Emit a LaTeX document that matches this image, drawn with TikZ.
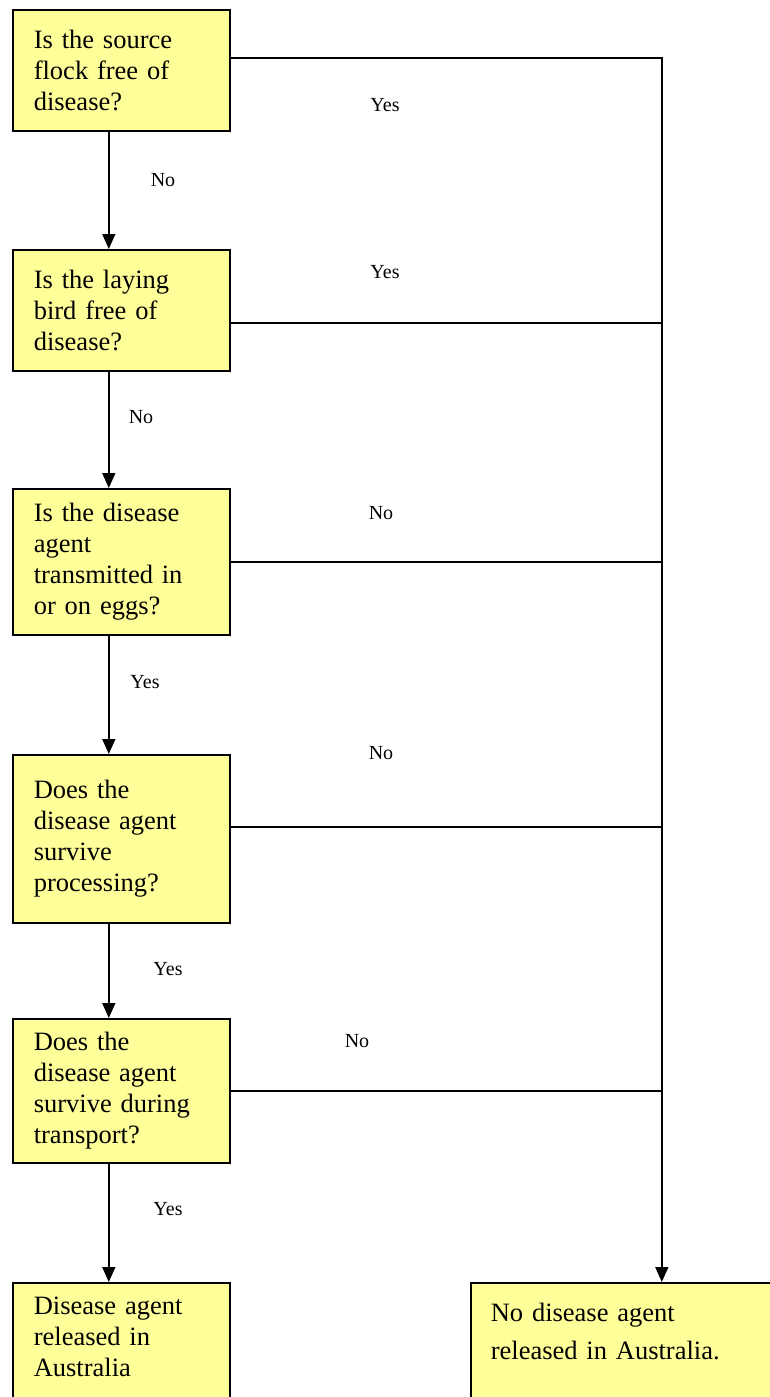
\documentclass[tikz,border=0pt]{standalone}
\usepackage{fontspec}
\setmainfont{Liberation Serif}
\usetikzlibrary{arrows.meta, positioning, calc}
\definecolor{PaleYellow}{HTML}{FFFF99}

\begin{document}
\begin{tikzpicture}[x=1pt, y=-1pt,
    box/.style={draw=black, line width=1.6pt, fill=PaleYellow, anchor=north west,
        text width=175pt, inner xsep=21pt, inner ysep=4pt, align=left,
        font=\fontsize{26.5}{31}\selectfont},
    link/.style={black, line width=1.6pt},
    arrow/.style={link, -{Triangle[length=15pt, width=13pt]}},
    lbl/.style={font=\fontsize{20}{24}\selectfont}]

\useasboundingbox (0,0) rectangle (770,1397);
\clip (0,0) rectangle (770,1397);

% preguntas
\node[box, minimum height=121pt] (q1) at (12,9) {Is the source\\flock free of\\disease?};
\node[box, minimum height=121pt] (q2) at (12,249) {Is the laying\\bird free of\\disease?};
\node[box, minimum height=146pt] (q3) at (12,488) {Is the disease\\agent\\transmitted in\\or on eggs?};
\node[box, minimum height=168pt] (q4) at (12,754) {Does the\\disease agent\\survive\\processing?};
\node[box, minimum height=144pt] (q5) at (12,1018) {Does the\\disease agent\\survive during\\transport?};

% resultados
\node[box, inner ysep=14pt, text depth=140pt] (rel) at (12,1282)
    {Disease agent\\released in\\Australia};
\node[box, text width=342pt, inner xsep=20pt, inner ysep=20pt, text depth=140pt,
    font=\fontsize{26.5}{38}\selectfont] (norel) at (470,1282)
    {No disease agent\\released in Australia.};

% flechas hacia abajo
\draw[arrow] ([xshift=-12.5pt]q1.south) -- ([xshift=-12.5pt]q2.north);
\draw[arrow] ([xshift=-12.5pt]q2.south) -- ([xshift=-12.5pt]q3.north);
\draw[arrow] ([xshift=-12.5pt]q3.south) -- ([xshift=-12.5pt]q4.north);
\draw[arrow] ([xshift=-12.5pt]q4.south) -- ([xshift=-12.5pt]q5.north);
\draw[arrow] ([xshift=-12.5pt]q5.south) -- ([xshift=-12.5pt]rel.north);

% linea derecha
\draw[arrow] ([yshift=12.5pt]q1.east) -| (norel.north);
\draw[link] ([yshift=-12.5pt]q2.east) -- ([yshift=-12.5pt]q2.east -| norel.north);
\draw[link] (q3.east) -- (q3.east -| norel.north);
\draw[link] ([yshift=12pt]q4.east) -- ([yshift=12pt]q4.east -| norel.north);
\draw[link] (q5.east) -- (q5.east -| norel.north);

% etiquetas
\node[lbl] (y1) at (385,105) {Yes};
\node[lbl] (n1) at (163,180) {No};
\node[lbl] (y2) at (385,272) {Yes};
\node[lbl] (n2) at (141,417) {No};
\node[lbl] (n3) at (381,513) {No};
\node[lbl] (y3) at (145,682) {Yes};
\node[lbl] (n4) at (381,753) {No};
\node[lbl] (y4) at (168,969) {Yes};
\node[lbl] (n5) at (357,1041) {No};
\node[lbl] (y5) at (168,1209) {Yes};

\end{tikzpicture}
\end{document}
